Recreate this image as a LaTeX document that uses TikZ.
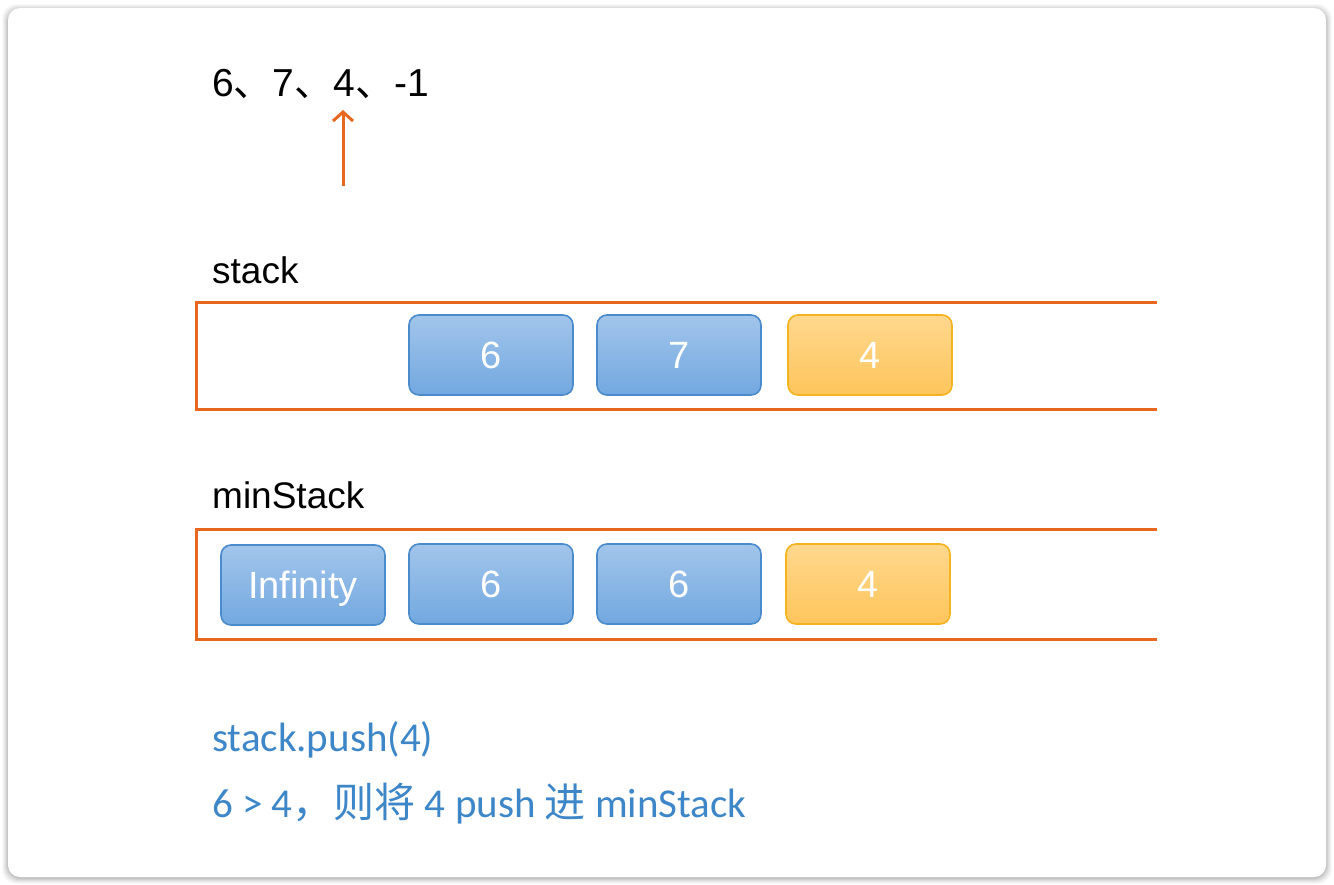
\documentclass[tikz,border=0pt]{standalone}
\usepackage{fontspec}
\setmainfont{Liberation Sans}
\newfontfamily\cjk{Noto Sans CJK SC}
\newfontfamily\hum{Carlito}
\usetikzlibrary{positioning,arrows.meta}
\definecolor{orangeline}{HTML}{E8671F}
\definecolor{bluetop}{HTML}{A2C5EB}
\definecolor{bluebot}{HTML}{72A8E0}
\definecolor{blueborder}{HTML}{4A8CCB}
\definecolor{yeltop}{HTML}{FFD88E}
\definecolor{yelbot}{HTML}{FEC55C}
\definecolor{yelborder}{HTML}{F5B320}
\definecolor{textblue}{HTML}{3D87C9}
\tikzset{
  cell/.style={rounded corners=10pt, minimum width=164pt, minimum height=80pt,
    line width=1.6pt, text=white, font=\fontsize{38}{38}\selectfont, inner sep=0pt,
    text height=27pt, text depth=0pt},
  bluecell/.style={cell, draw=blueborder, top color=bluetop, bottom color=bluebot},
  yelcell/.style={cell, draw=yelborder, top color=yeltop, bottom color=yelbot},
  container/.style={draw=orangeline, line width=3pt},
  label/.style={anchor=base west, inner sep=0pt, font=\fontsize{37}{37}\selectfont},
  note/.style={anchor=base west, inner sep=0pt, text=textblue, font=\hum\fontsize{41}{41}\selectfont},
}
\begin{document}
\begin{tikzpicture}[x=1pt,y=-1pt]
\useasboundingbox (0,0) rectangle (1334,884);
\fill[white] (0,0) rectangle (1334,884);
% shadow
\foreach \i/\o in {6/0.025,5/0.03,4/0.035,3/0.04,2/0.05,1/0.06}{
  \fill[black,opacity=\o,rounded corners=14pt] (8-\i,8-\i+2) rectangle (1326+\i,877+\i+1);
}
\fill[white,rounded corners=12pt] (8,8) rectangle (1326,877);

% sequence
\node[label, font=\fontsize{39}{39}\selectfont] (seq) at (212,96) {6{\cjk 、}7{\cjk 、}4{\cjk 、}-1};
\coordinate (arrfrom) at (343,186);
\coordinate (arrto) at (343,110);
\draw[orangeline, line width=3pt, -{Straight Barb[length=9pt,width=20pt,line width=3pt]}] (arrfrom) -- (arrto);

% stack
\node[label] (stacklbl) at (212,283) {stack};
\draw[container] (1157,302) -- (196,302) -- (196,409) -- (1157,409);
\node[bluecell] (s1) at (491,355) {6};
\node[bluecell] (s2) at (679,355) {7};
\node[yelcell] (s3) at (870,355) {4};

% minStack
\node[label] (minlbl) at (212,508) {minStack};
\draw[container] (1157,529) -- (196,529) -- (196,639) -- (1157,639);
\node[bluecell] (m0) at (303,585) {Infinity};
\node[bluecell] (m1) at (491,584) {6};
\node[bluecell] (m2) at (679,584) {6};
\node[yelcell] (m3) at (868,584) {4};

% notes
\node[note] (n1) at (212,751) {stack.push(4)};
\node[note] (n2) at (212,817) {6 > 4{\cjk ，}{\cjk 则将} 4 push {\cjk 进} minStack};
\end{tikzpicture}
\end{document}
